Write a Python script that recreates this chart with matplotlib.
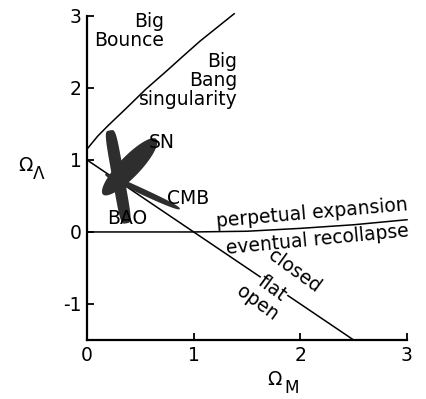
import numpy as np
import matplotlib
matplotlib.use('Agg')
import matplotlib.pyplot as plt
from matplotlib.patches import Polygon

# ── Data ─────────────────────────────────────────────────────────────────────
flat_x = [0.0, 2.5]
flat_y = [1.0, -1.5]

bounce_x = [0.0, 0.10, 0.20, 0.37, 0.55, 0.75, 0.90, 1.06, 1.22, 1.38]
bounce_y = [1.15, 1.33, 1.48, 1.72, 1.98, 2.24, 2.44, 2.65, 2.84, 3.03]

recollapse_x = [0.0, 1.0, 1.5, 2.0, 2.5, 3.0]
recollapse_y = [0.0, 0.0, 0.01, 0.05, 0.10, 0.17]

# constraint regions: (end1, end2, full width in px, squareness)
probe_names = ["SN", "BAO", "CMB"]
probe_end1 = [(0.15, 0.52), (0.215, 1.41), (0.17, 0.80)]
probe_end2 = [(0.65, 1.29), (0.37, 0.12), (0.87, 0.32)]
probe_width = [21, 12, 6]
probe_shape = [2.0, 5.0, 2.5]

xticks = [0, 1, 2, 3]
yticks = [-1, 0, 1, 2, 3]

FS = 13.5
DARK = "#2e2e2e"

fig = plt.figure(figsize=(4.27, 3.99), dpi=100)
ax = fig.add_axes([87 / 427, 59 / 399, 320 / 427, 327 / 399])
ax.set_xlim(0, 3)
ax.set_ylim(-1.5, 3.04)

for s in ["top", "right"]:
    ax.spines[s].set_visible(False)
for s in ["left", "bottom"]:
    ax.spines[s].set_linewidth(1.6)
ax.spines["left"].set_bounds(-1.5, 3.0)

ax.set_xticks(xticks)
ax.set_yticks(yticks)
ax.set_xticklabels([str(t) for t in xticks])
ax.set_yticklabels([str(t) for t in yticks])
ax.tick_params(direction="in", length=5, width=1.3, labelsize=FS, pad=4)

# ── Lines ────────────────────────────────────────────────────────────────────
ax.plot(flat_x, flat_y, color="black", lw=1.1, clip_on=False, zorder=2)
ax.plot(bounce_x, bounce_y, color="black", lw=1.1, clip_on=False, zorder=2)
ax.plot(recollapse_x, recollapse_y, color="black", lw=1.1, clip_on=False, zorder=2)

# ── Constraint blobs (built in pixel space so widths look right) ─────────────
t = np.linspace(0, 2 * np.pi, 200)
for p0, p1, w, sq in zip(probe_end1, probe_end2, probe_width, probe_shape):
    d0 = ax.transData.transform(p0)
    d1 = ax.transData.transform(p1)
    c = (d0 + d1) / 2
    a = (d1 - d0) / 2
    n = np.array([-a[1], a[0]]) / np.hypot(*a) * (w / 2)
    ct = np.sign(np.cos(t)) * np.abs(np.cos(t)) ** (2 / sq)
    st = np.sign(np.sin(t)) * np.abs(np.sin(t)) ** (2 / sq)
    pts = c + np.outer(ct, a) + np.outer(st, n)
    pts = ax.transData.inverted().transform(pts)
    ax.add_patch(Polygon(pts, closed=True, color=DARK, lw=0, zorder=3))

# ── Labels ───────────────────────────────────────────────────────────────────
ax.text(0.72, 3.06, "Big\nBounce", ha="right", va="top", fontsize=FS,
        linespacing=1.05, clip_on=False)
ax.text(1.41, 2.5, "Big\nBang\nsingularity", ha="right", va="top", fontsize=FS,
        linespacing=1.0)

ax.text(0.58, 1.24, "SN", ha="left", va="center", fontsize=FS, zorder=4)
ax.text(0.75, 0.47, "CMB", ha="left", va="center", fontsize=FS, zorder=4)
ax.text(0.19, 0.19, "BAO", ha="left", va="center", fontsize=FS, zorder=4)

ax.text(2.11, 0.26, "perpetual expansion", ha="center", va="center",
        fontsize=FS, rotation=5, rotation_mode="anchor")
ax.text(2.16, -0.11, "eventual recollapse", ha="center", va="center",
        fontsize=FS, rotation=5.5, rotation_mode="anchor")
ax.text(1.95, -0.54, "closed", ha="center", va="center",
        fontsize=FS, rotation=-36, rotation_mode="anchor")
ax.text(1.74, -0.78, "flat", ha="center", va="center", fontsize=FS,
        rotation=-36, rotation_mode="anchor",
        bbox=dict(facecolor="white", edgecolor="none", pad=0.5), zorder=4)
ax.text(1.60, -0.99, "open", ha="center", va="center",
        fontsize=FS, rotation=-36, rotation_mode="anchor")

# axis labels
ax.text(-0.58, 0.92, "Ω", ha="center", va="center", fontsize=FS, clip_on=False)
ax.text(-0.45, 0.81, "Λ", ha="center", va="center", fontsize=FS * 0.9,
        clip_on=False)
ax.text(1.76, -2.05, "Ω", ha="center", va="center", fontsize=FS, clip_on=False)
ax.text(1.92, -2.17, "M", ha="center", va="center", fontsize=FS * 0.9,
        clip_on=False)

fig.savefig("out.png", dpi=100)
